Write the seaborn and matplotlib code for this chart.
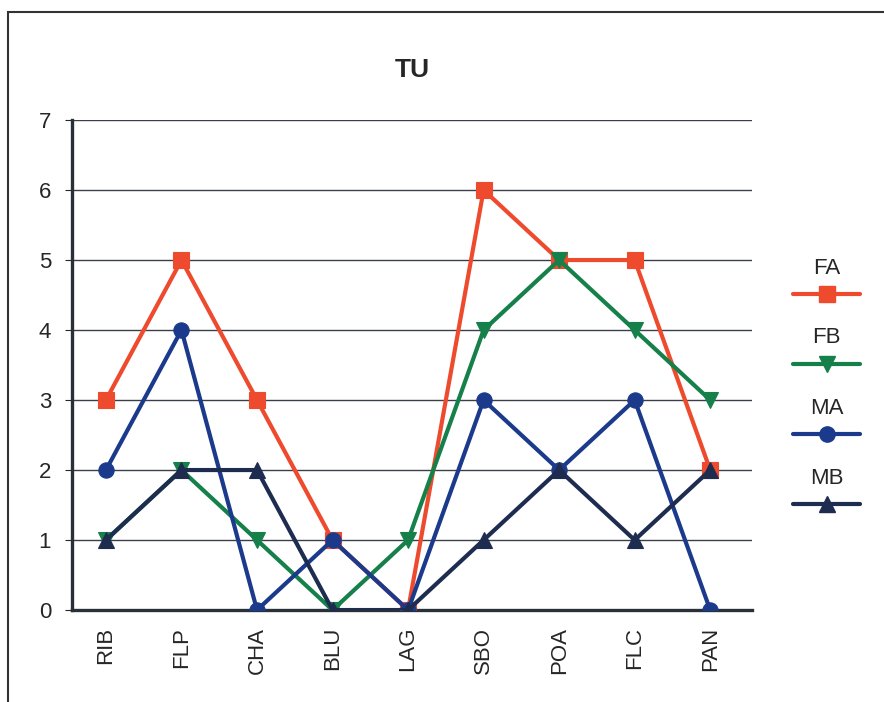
import pandas as pd
import seaborn as sns
import matplotlib.pyplot as plt
from matplotlib.lines import Line2D
from matplotlib.patches import Rectangle

sites = ['RIB', 'FLP', 'CHA', 'BLU', 'LAG', 'SBO', 'POA', 'FLC', 'PAN']
fa = [3, 5, 3, 1, 0, 6, 5, 5, 2]
fb = [1, 2, 1, 0, 1, 4, 5, 4, 3]
ma = [2, 4, 0, 1, 0, 3, 2, 3, 0]
mb = [1, 2, 2, 0, 0, 1, 2, 1, 2]
groups = ['FA', 'FB', 'MA', 'MB']

colors = {'FA': '#ee4a2e', 'FB': '#16804a', 'MA': '#1c3a8c', 'MB': '#1e2c50'}
markers = {'FA': 's', 'FB': 'v', 'MA': 'o', 'MB': '^'}

rows = []
for g, vals in zip(groups, [fa, fb, ma, mb]):
    for i, (s, v) in enumerate(zip(sites, vals)):
        rows.append({'pos': i, 'site': s, 'value': v, 'group': g})
df = pd.DataFrame(rows)

sns.set_style('white')
plt.rcParams['font.family'] = ['Liberation Sans', 'DejaVu Sans']

fig = plt.figure(figsize=(8.84, 7.02), dpi=100)
ax = fig.add_axes([0.0814, 0.131, 0.769, 0.698])

sns.lineplot(data=df, x='pos', y='value', hue='group', style='group',
             palette=colors, markers=markers, dashes=False, linewidth=3.0,
             markersize=11, markeredgewidth=0.8, ax=ax, legend=False, zorder=3)
for l in ax.lines:
    l.set_markeredgecolor(l.get_color())

ax.set_xlim(-0.45, 8.55)
ax.set_ylim(0, 7)
ax.set_yticks(range(0, 8))
ax.set_xticks(range(len(sites)))
ax.set_xticklabels(sites, rotation=90, fontsize=16)
ax.tick_params(axis='y', labelsize=16, length=5, direction='out', left=True, pad=10)
ax.tick_params(axis='x', length=0, pad=12)
ax.set_xlabel('')
ax.set_ylabel('')
ax.yaxis.grid(True, color='#3a3f4a', linewidth=1.0)
ax.set_axisbelow(True)
for side in ['top', 'right']:
    ax.spines[side].set_visible(False)
for side in ['left', 'bottom']:
    ax.spines[side].set_color('#2a3038')
    ax.spines[side].set_linewidth(2.4)

fig.text(412 / 884, 1 - 70 / 702, 'TU', ha='center', va='center',
         fontsize=19, fontweight='bold')

# legend: label above each sample line
leg_x0, leg_x1 = 793 / 884, 860 / 884
label_y = [268, 338, 408, 478]
for g, ly in zip(groups, label_y):
    fig.text((leg_x0 + leg_x1) / 2, 1 - ly / 702, g, ha='center', va='center', fontsize=16)
    yy = 1 - (ly + 26) / 702
    fig.add_artist(Line2D([leg_x0, leg_x1], [yy, yy], color=colors[g], linewidth=3.0))
    fig.add_artist(Line2D([(leg_x0 + leg_x1) / 2], [yy], color=colors[g],
                          marker=markers[g], markersize=11, markeredgecolor=colors[g]))

# outer frame of the scanned chart
fig.add_artist(Rectangle((8 / 884, -0.05), 1.2, 1 - 12 / 702 + 0.05,
                         fill=False, edgecolor='#333333', linewidth=1.5))

fig.savefig('out.png', dpi=100)
